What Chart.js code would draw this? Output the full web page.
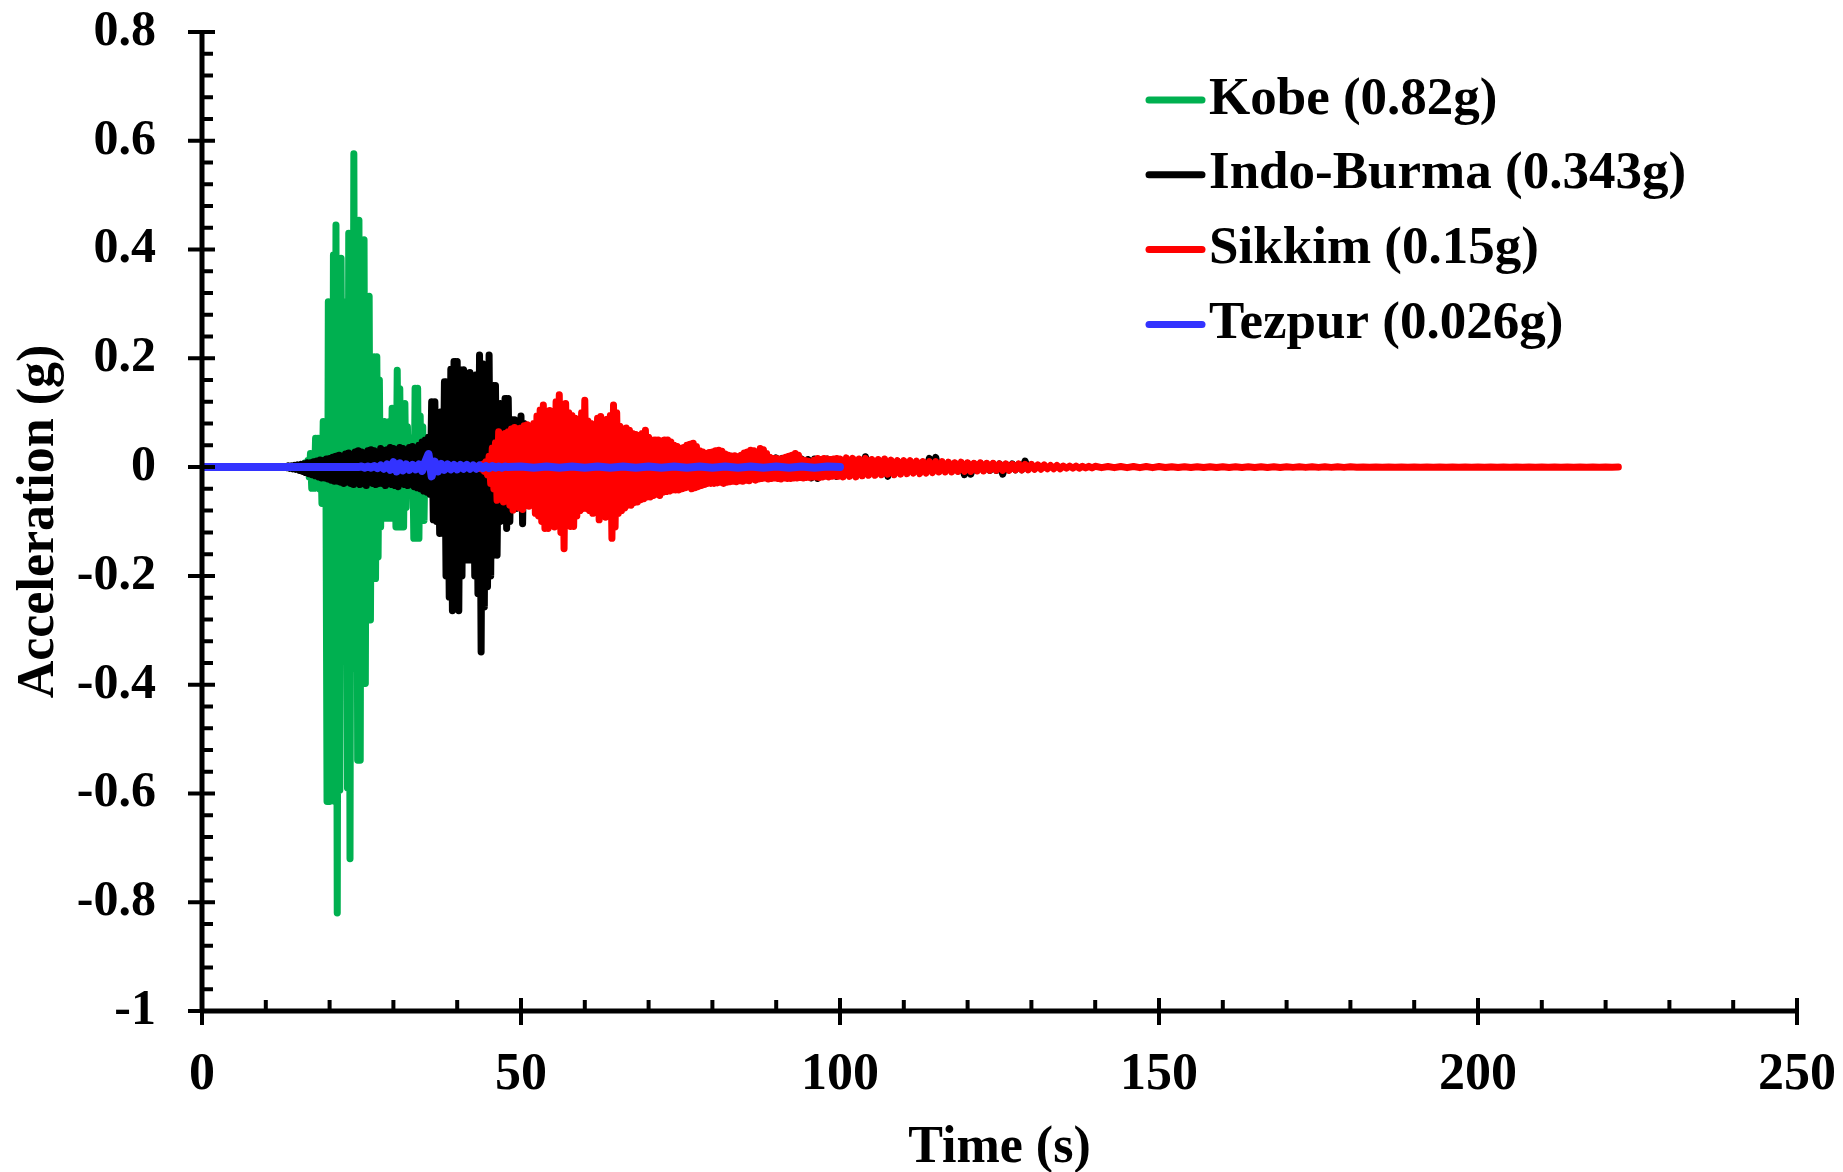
<!DOCTYPE html>
<html>
<head>
<meta charset="utf-8">
<title>Acceleration time histories</title>
<script src="https://cdn.jsdelivr.net/npm/chart.js@4.4.0/dist/chart.umd.min.js"></script>
<style>
    html, body { margin: 0; padding: 0; background: #fff; }
    #wrap { width: 1843px; height: 1172px; }
</style>
</head>
<body>
<div id="wrap"><canvas id="accChart" width="1843" height="1172"></canvas></div>
<script>
// legend names
const recordNames = ["Kobe (0.82g)", "Indo-Burma (0.343g)", "Sikkim (0.15g)", "Tezpur (0.026g)"];

// axis ticks
const xTicks = [0, 50, 100, 150, 200, 250];
const yTicks = [-1, -0.8, -0.6, -0.4, -0.2, 0, 0.2, 0.4, 0.6, 0.8];

const kobeStart = 15.0, kobeStep = 0.2;
const kobeAcc = [
    0.002, -0.003, 0.003, -0.004, 0.005,
    -0.006, 0.008, -0.01, 0.012, -0.018,
    0.025, -0.039, 0.025, -0.039, 0.053,
    -0.034, 0.053, -0.04, 0.045, -0.067,
    0.084, -0.067, 0.084, -0.615, 0.304,
    -0.615, 0.304, -0.57, 0.39, -0.615,
    0.445, -0.82, 0.384, -0.594, 0.384,
    -0.159, 0.304, -0.34, 0.304, -0.59,
    0.43, -0.72, 0.43, -0.37, 0.576,
    -0.29, 0.454, -0.539, 0.454, -0.539,
    0.418, -0.398, 0.418, -0.398, 0.314,
    -0.281, 0.314, -0.281, 0.148, -0.205,
    0.203, -0.205, 0.203, -0.165, 0.16,
    -0.11, 0.084, -0.094, 0.084, -0.094,
    0.074, -0.094, 0.084, -0.094, 0.108,
    -0.094, 0.108, -0.11, 0.178, -0.11,
    0.144, -0.11, 0.117, -0.11, 0.117,
    -0.074, 0.074, -0.048, 0.044, -0.048,
    0.054, -0.131, 0.145, -0.131, 0.145,
    -0.131, 0.094, -0.098, 0.074, -0.098,
    0.054, -0.044, 0.034, -0.024, 0.014,
    -0.005
];

// Indo-Burma, every 0.25 s from 13 s, then every 0.5 s from 60.5 s
const indoStart = 13.0, indoStep = 0.25;
const indoAcc = [
    0.001, -0.001, 0.002, -0.002,
    0.002, -0.003, 0.003, -0.004,
    0.004, -0.006, 0.005, -0.008,
    0.006, -0.01, 0.008, -0.012,
    0.008, -0.014, 0.01, -0.016,
    0.011, -0.018, 0.013, -0.02,
    0.012, -0.02, 0.015, -0.022,
    0.016, -0.024, 0.018, -0.026,
    0.02, -0.026, 0.022, -0.028,
    0.02, -0.03, 0.024, -0.026,
    0.026, -0.03, 0.022, -0.032,
    0.028, -0.028, 0.03, -0.032,
    0.028, -0.03, 0.026, -0.034,
    0.03, -0.028, 0.032, -0.03,
    0.03, -0.032, 0.028, -0.03,
    0.034, -0.03, 0.03, -0.034,
    0.032, -0.03, 0.036, -0.032,
    0.034, -0.034, 0.032, -0.036,
    0.036, -0.03, 0.034, -0.032,
    0.03, -0.034, 0.036, -0.03,
    0.038, -0.036, 0.034, -0.038,
    0.04, -0.04, 0.046, -0.044,
    0.05, -0.046, 0.055, -0.05,
    0.12, -0.097, 0.12, -0.1,
    0.1, -0.122, 0.102, -0.122,
    0.157, -0.2, 0.157, -0.239,
    0.18, -0.264, 0.194, -0.22,
    0.194, -0.264, 0.179, -0.2,
    0.179, -0.171, 0.17, -0.171,
    0.174, -0.171, 0.165, -0.2,
    0.17, -0.233, 0.206, -0.34,
    0.19, -0.257, 0.185, -0.22,
    0.206, -0.2, 0.15, -0.162,
    0.15, -0.162, 0.117, -0.1,
    0.117, -0.097, 0.126, -0.113,
    0.126, -0.1, 0.087, -0.076,
    0.087, -0.076, 0.075, -0.07,
    0.094, -0.104, 0.08, -0.07,
    0.07, -0.065, 0.06, -0.065,
    0.065, -0.06, 0.06, -0.062,
    0.055, -0.06, 0.058, -0.055,
    0.05, -0.055, 0.052, -0.05,
    0.048, -0.05, 0.045, -0.048,
    0.045, -0.044, 0.042, -0.046,
    0.04, -0.042, 0.044, -0.04,
    0.04, -0.038, 0.038, -0.04,
    0.036, -0.038, 0.035, -0.036,
    0.034
];
const indoTailStart = 60.5, indoTailStep = 0.5;
const indoTailAcc = [
    -0.036, 0.034, -0.034, 0.036, -0.035, 0.032, -0.033, 0.034, -0.032, 0.033,
    -0.031, 0.03, -0.03, 0.031, -0.029, 0.03, -0.03, 0.028, -0.028, 0.029,
    -0.027, 0.026, -0.026, 0.027, -0.025, 0.026, -0.026, 0.024, -0.024, 0.025,
    -0.023, 0.024, -0.024, 0.022, -0.022, 0.023, -0.021, 0.022, -0.022, 0.02,
    -0.02, 0.021, -0.021, 0.02, -0.019, 0.02, -0.02, 0.018, -0.018, 0.019,
    -0.019, 0.018, -0.018, 0.017, -0.017, 0.018, -0.018, 0.016, -0.016, 0.017,
    -0.017, 0.016, -0.016, 0.015, -0.015, 0.016, -0.016, 0.015, -0.018, 0.014,
    -0.02, 0.015, -0.021, 0.014, -0.016, 0.015, -0.015, 0.014, -0.017, 0.013,
    -0.012, 0.011, -0.011, 0.012, -0.01, 0.014, -0.011, 0.019, -0.012, 0.012,
    -0.01, 0.01, -0.011, 0.01, -0.017, 0.01, -0.01, 0.011, -0.01, 0.009,
    -0.009, 0.008, -0.009, 0.009, -0.008, 0.009, -0.008, 0.016, -0.008, 0.018,
    -0.008, 0.007, -0.007, 0.008, -0.007, 0.007, -0.007, 0.006, -0.014, 0.007,
    -0.013, 0.006, -0.006, 0.007, -0.006, 0.006, -0.006, 0.006, -0.006, 0.006,
    -0.013, 0.005, -0.005, 0.006, -0.005, 0.005, -0.005, 0.011, -0.004, 0.004,
    -0.003, 0.002, -0.001, 0
];

// Sikkim, every 0.25 s from 43 s, every 0.5 s from 100.5 s, every 1 s from 141 s
const sikkimStart = 43.0, sikkimStep = 0.25;
const sikkimAcc = [
    0.001, -0.002, 0.002, -0.003,
    0.005, -0.008, 0.01, -0.014,
    0.02, -0.03, 0.035, -0.04,
    0.045, -0.061, 0.065, -0.058,
    0.06, -0.064, 0.062, -0.06,
    0.065, -0.07, 0.07, -0.079,
    0.073, -0.072, 0.07, -0.075,
    0.072, -0.078, 0.076, -0.07,
    0.078, -0.072, 0.074, -0.07,
    0.08, -0.085, 0.094, -0.09,
    0.105, -0.1, 0.114, -0.113,
    0.1, -0.113, 0.104, -0.1,
    0.1, -0.11, 0.12, -0.105,
    0.133, -0.12, 0.114, -0.15,
    0.117, -0.105, 0.1, -0.109,
    0.095, -0.109, 0.09, -0.09,
    0.085, -0.08, 0.1, -0.076,
    0.123, -0.076, 0.085, -0.08,
    0.08, -0.085, 0.075, -0.082,
    0.09, -0.097, 0.093, -0.09,
    0.085, -0.092, 0.088, -0.09,
    0.095, -0.131, 0.114, -0.11,
    0.1, -0.085, 0.075, -0.08,
    0.07, -0.075, 0.072, -0.07,
    0.068, -0.07, 0.062, -0.065,
    0.06, -0.064, 0.058, -0.06,
    0.062, -0.058, 0.068, -0.055,
    0.055, -0.055, 0.05, -0.052,
    0.05, -0.05, 0.05, -0.052,
    0.048, -0.046, 0.05, -0.045,
    0.05, -0.044, 0.046, -0.042,
    0.04, -0.042, 0.038, -0.042,
    0.034, -0.04, 0.036, -0.038,
    0.04, -0.036, 0.042, -0.04,
    0.044, -0.038, 0.038, -0.036,
    0.03, -0.034, 0.028, -0.032,
    0.025, -0.03, 0.027, -0.03,
    0.028, -0.03, 0.03, -0.029,
    0.031, -0.028, 0.029, -0.03,
    0.024, -0.028, 0.022, -0.027,
    0.02, -0.026, 0.021, -0.027,
    0.019, -0.025, 0.022, -0.026,
    0.026, -0.024, 0.028, -0.025,
    0.031, -0.022, 0.03, -0.024,
    0.028, -0.022, 0.034, -0.021,
    0.032, -0.02, 0.025, -0.022,
    0.018, -0.021, 0.016, -0.02,
    0.016, -0.021, 0.015, -0.022,
    0.016, -0.02, 0.018, -0.021,
    0.02, -0.021, 0.022, -0.02,
    0.025, -0.02, 0.022, -0.019,
    0.014, -0.02, 0.012, -0.019,
    0.011, -0.019, 0.01, -0.018,
    0.013, -0.018, 0.016, -0.019,
    0.014, -0.018, 0.016, -0.017,
    0.015, -0.018, 0.014, -0.017,
    0.015, -0.016, 0.016, -0.017,
    0.015
];
const sikkimTailStart = 100.5, sikkimTailStep = 0.5;
const sikkimTailAcc = [
    -0.018, 0.017, -0.017, 0.016, -0.018, 0.015, -0.016, 0.016, -0.015, 0.014,
    -0.015, 0.014, -0.014, 0.015, -0.013, 0.013, -0.014, 0.012, -0.013, 0.012,
    -0.012, 0.012, -0.011, 0.011, -0.012, 0.01, -0.011, 0.01, -0.01, 0.01,
    -0.009, 0.01, -0.009, 0.009, -0.009, 0.008, -0.008, 0.009, -0.008, 0.008,
    -0.008, 0.007, -0.007, 0.008, -0.007, 0.007, -0.006, 0.007, -0.006, 0.006,
    -0.006, 0.006, -0.006, 0.005, -0.005, 0.006, -0.005, 0.005, -0.005, 0.005,
    -0.004, 0.004, -0.004, 0.004, -0.003, 0.003, -0.003, 0.003, -0.003, 0.002,
    -0.002, 0.002, -0.002, 0.002, -0.002, 0.0015, -0.0015, 0.0015, -0.0015, 0.0015
];
const sikkimEndStart = 141, sikkimEndStep = 1;
const sikkimEndAcc = [
    -0.001, 0.001, -0.001, 0.001, -0.001, 0.001, -0.001, 0.001, -0.001, 0.001,
    -0.0008, 0.0008, -0.0008, 0.0008, -0.0008, 0.0008, -0.0008, 0.0008, -0.0008, 0.0008,
    -0.0006, 0.0006, -0.0006, 0.0006, -0.0006, 0.0006, -0.0006, 0.0006, -0.0006, 0.0006,
    -0.0005, 0.0005, -0.0005, 0.0005, -0.0005, 0.0005, -0.0005, 0.0005, -0.0005, 0.0005,
    -0.0004, 0.0004, -0.0004, 0.0004, -0.0004, 0.0004, -0.0004, 0.0004, -0.0004, 0.0004,
    -0.0004, 0.0004, -0.0004, 0.0004, -0.0004, 0.0004, -0.0004, 0.0004, -0.0004, 0.0004,
    -0.0003, 0.0003, -0.0003, 0.0003, -0.0003, 0.0003, -0.0003, 0.0003, -0.0003, 0.0003,
    -0.0003, 0.0003, -0.0003, 0.0003, -0.0003, 0.0003, -0.0003, 0.0003, -0.0003, 0.0003,
    -0.0002, 0
];

// Tezpur, every 0.5 s from 0 s, then every 2 s from 50 s
const tezpurStart = 0, tezpurStep = 0.5;
const tezpurAcc = [
    0, 0, 0, 0, 0, 0, 0, 0, 0, 0,
    0, 0, 0, 0, 0, 0, 0, 0, 0, 0,
    0, 0, 0, 0, 0, 0, 0, 0, 0, 0,
    0, 0, 0, 0, 0, 0, 0, 0, 0, 0,
    0, 0, 0, 0, 0, 0, 0, 0, 0, 0,
    0.001, -0.001, 0.001, -0.001, 0.002, -0.002,
    0.003, -0.003, 0.005, -0.005,
    0.009, -0.008, 0.007, -0.006,
    0.005, -0.005,
    0.004, -0.004, 0.005, -0.007, 0.01, 0.024, -0.017, 0.01, -0.008, 0.006,
    -0.005, 0.005, -0.004, 0.004, -0.004, 0.004, -0.003, 0.004, -0.003, 0.003,
    -0.003, 0.003, -0.002, 0.002, -0.002, 0.002, -0.001, 0.001, -0.001, 0.001,
    0
];
const tezpurTailStart = 50, tezpurTailStep = 2;
const tezpurTailAcc = [
    0.001, -0.001, 0.001, -0.001, 0.001, -0.001, 0.001, -0.001, 0.001, -0.001,
    0.001, -0.001, 0.001, -0.001, 0.001, -0.001, 0.001, -0.001, 0.001, -0.001,
    0.001, -0.001, 0.001, -0.001, 0.001, 0
];

const lineColors = ["#00B050", "#000000", "#FF0000", "#3333FF"];

function samples(start, step, acc) {
    return acc.map((a, i) => ({ x: +(start + i * step).toFixed(3), y: a }));
}

const fontFamily = "'Liberation Serif', 'Times New Roman', serif";

// axis lines with crossing major ticks and inward minor ticks
const axisFrame = {
    id: "axisFrame",
    afterDatasetsDraw(chart) {
        const ctx = chart.ctx;
        const a = chart.chartArea;
        const xs = chart.scales.x;
        const ys = chart.scales.y;
        ctx.save();
        ctx.strokeStyle = "#000";
        ctx.lineCap = "butt";

        ctx.lineWidth = 5;
        ctx.beginPath();
        ctx.moveTo(a.left, a.top - 2);
        ctx.lineTo(a.left, a.bottom + 2);
        ctx.moveTo(a.left - 2, a.bottom);
        ctx.lineTo(a.right + 2, a.bottom);
        ctx.stroke();

        ctx.lineWidth = 4;
        ctx.beginPath();
        // minor ticks: x every 10, y every 0.04
        for (let k = 0; k <= 25; k++) {
            const px = xs.getPixelForValue(k * 10);
            ctx.moveTo(px, a.bottom);
            ctx.lineTo(px, a.bottom - 11);
        }
        for (let k = 0; k <= 45; k++) {
            const py = ys.getPixelForValue(-1 + k * 0.04);
            ctx.moveTo(a.left, py);
            ctx.lineTo(a.left + 11, py);
        }
        xTicks.forEach(v => {
            const px = xs.getPixelForValue(v);
            ctx.moveTo(px, a.bottom - 13);
            ctx.lineTo(px, a.bottom + 14);
        });
        yTicks.forEach(v => {
            const py = ys.getPixelForValue(v);
            ctx.moveTo(a.left - 14, py);
            ctx.lineTo(a.left + 13, py);
        });
        ctx.stroke();
        ctx.restore();
    }
};

// legend in the top right of the plot
const insideLegend = {
    id: "insideLegend",
    afterDraw(chart) {
        const ctx = chart.ctx;
        ctx.save();
        ctx.font = "bold 53px " + fontFamily;
        ctx.textBaseline = "middle";
        ctx.textAlign = "left";
        chart.data.datasets.forEach((ds, i) => {
            const y = 100 + i * 74.8;
            ctx.strokeStyle = ds.borderColor;
            ctx.lineWidth = 7;
            ctx.lineCap = "round";
            ctx.beginPath();
            ctx.moveTo(1149, y);
            ctx.lineTo(1202, y);
            ctx.stroke();
            ctx.fillStyle = "#000";
            ctx.fillText(ds.label, 1209, y);
        });
        ctx.restore();
    }
};

const tickFont = { family: fontFamily, size: 52, weight: "bold" };
const titleFont = { family: fontFamily, size: 52, weight: "bold", lineHeight: 0.85 };

new Chart(document.getElementById("accChart"), {
    type: "line",
    data: {
        datasets: [
            {
                label: recordNames[0],
                data: samples(kobeStart, kobeStep, kobeAcc),
                borderColor: lineColors[0],
                borderWidth: 7,
                order: 3
            },
            {
                label: recordNames[1],
                data: samples(indoStart, indoStep, indoAcc)
                    .concat(samples(indoTailStart, indoTailStep, indoTailAcc)),
                borderColor: lineColors[1],
                borderWidth: 7,
                order: 2
            },
            {
                label: recordNames[2],
                data: samples(sikkimStart, sikkimStep, sikkimAcc)
                    .concat(samples(sikkimTailStart, sikkimTailStep, sikkimTailAcc))
                    .concat(samples(sikkimEndStart, sikkimEndStep, sikkimEndAcc)),
                borderColor: lineColors[2],
                borderWidth: 7,
                order: 1
            },
            {
                label: recordNames[3],
                data: samples(tezpurStart, tezpurStep, tezpurAcc)
                    .concat(samples(tezpurTailStart, tezpurTailStep, tezpurTailAcc)),
                borderColor: lineColors[3],
                borderWidth: 8,
                order: 0
            }
        ]
    },
    options: {
        responsive: false,
        animation: false,
        parsing: false,
        normalized: true,
        layout: { padding: { top: 32, right: 46, left: 0, bottom: 0 } },
        elements: {
            point: { radius: 0, hoverRadius: 0 },
            line: { tension: 0, borderCapStyle: "round", borderJoinStyle: "round", fill: false }
        },
        plugins: {
            legend: { display: false },
            tooltip: { enabled: false }
        },
        scales: {
            x: {
                type: "linear",
                min: 0,
                max: 250,
                grid: { display: false, drawTicks: false },
                border: { display: false },
                ticks: {
                    stepSize: 50,
                    autoSkip: false,
                    maxRotation: 0,
                    padding: 33,
                    color: "#000",
                    font: tickFont
                },
                title: {
                    display: true,
                    text: "Time (s)",
                    color: "#000",
                    font: titleFont,
                    padding: { top: 0, bottom: 1 }
                },
                afterFit: s => {
                    s.height = 161;
                    s.paddingLeft = 0;
                    s.paddingRight = 0;
                }
            },
            y: {
                type: "linear",
                min: -1,
                max: 0.8,
                grid: { display: false, drawTicks: false },
                border: { display: false },
                ticks: {
                    stepSize: 0.2,
                    padding: 46,
                    color: "#000",
                    font: { family: fontFamily, size: 50, weight: "bold" },
                    callback: v => String(Math.round(v * 10) / 10)
                },
                title: {
                    display: true,
                    text: "Acceleration (g)",
                    color: "#000",
                    font: titleFont,
                    padding: { top: 17, bottom: 0 }
                },
                afterFit: s => {
                    s.width = 202;
                    s.paddingTop = 0;
                    s.paddingBottom = 0;
                }
            }
        }
    },
    plugins: [axisFrame, insideLegend]
});
</script>
</body>
</html>
